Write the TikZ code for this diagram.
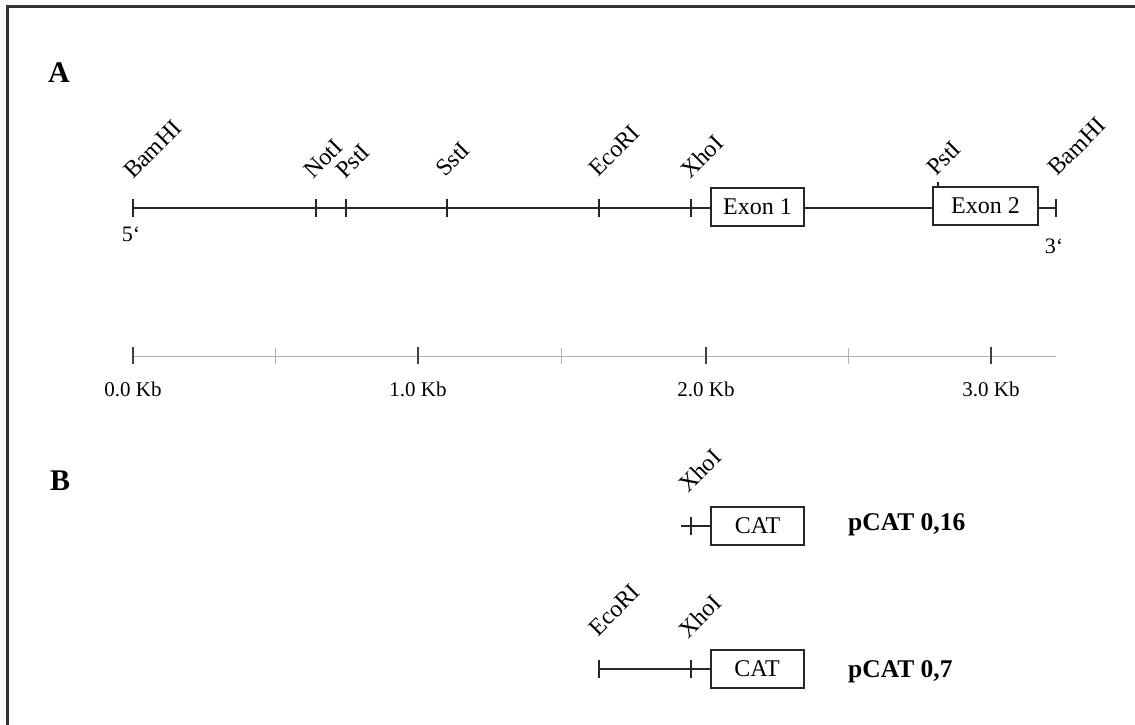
\documentclass[tikz,border=0pt]{standalone}
\usepackage{fontspec}
\setmainfont{Liberation Serif}
\begin{document}
\begin{tikzpicture}[x=1pt,y=-1pt,
  frame/.style={line width=3pt,draw=black!80},
  dna/.style={line width=2pt,draw=black!85},
  tick/.style={line width=2pt,draw=black!85},
  sitelabel/.style={rotate=45,anchor=base west,inner sep=0pt,font=\fontsize{24}{24}\selectfont},
  genebox/.style={draw=black!85,line width=2pt,minimum height=38pt,inner sep=0pt,font=\fontsize{24}{24}\selectfont},
  scaleline/.style={line width=1pt,draw=black!30},
  majortick/.style={line width=2pt,draw=black!75},
  minortick/.style={line width=1pt,draw=black!30},
  kb/.style={anchor=base,inner sep=0pt,font=\fontsize{21}{21}\selectfont},
  panel/.style={anchor=base west,inner sep=0pt,font=\fontsize{30}{30}\selectfont\bfseries},
  construct/.style={anchor=base west,inner sep=0pt,font=\fontsize{25.5}{25.5}\selectfont\bfseries},
  endlabel/.style={anchor=center,inner sep=0pt,font=\fontsize{22}{22}\selectfont}]
\useasboundingbox (0,0) rectangle (1135,725);
\fill[white] (0,0) rectangle (1135,725);
\draw[frame] (7,726) -- (7,7) -- (1136,7);

% panel labels
\node[panel] (pA) at (48,82) {A};
\node[panel] (pB) at (50,490) {B};

% ---------- Panel A map ----------
\coordinate (a0) at (133,208);
\coordinate (aNot) at (316,208);
\coordinate (aPst) at (346,208);
\coordinate (aSst) at (447,208);
\coordinate (aEco) at (599,208);
\coordinate (aXho) at (691,208);
\coordinate (aEnd) at (1056,208);
\node[genebox,minimum width=93pt] (ex1) at (757.5,207) {Exon 1};
\node[genebox,minimum width=105pt] (ex2) at (985.5,206) {Exon 2};
\coordinate (aPst2) at (938,187);

\draw[dna] (a0) -- (ex1.west |- a0);
\draw[dna] (ex1.east |- a0) -- (ex2.west |- a0);
\draw[dna] (ex2.east |- a0) -- (aEnd);
\foreach \c in {a0,aNot,aPst,aSst,aEco,aXho,aEnd}
  \draw[tick] ([shift={(0,-9)}]\c) -- ([shift={(0,9)}]\c);
\draw[tick] (aPst2) -- ([shift={(0,-5)}]aPst2);

\node[sitelabel] (lBam1) at ([shift={(0,-28)}]a0) {BamHI};
\node[sitelabel] (lNot) at ([shift={(-3,-28)}]aNot) {NotI};
\node[sitelabel] (lPst) at ([shift={(-1,-28)}]aPst) {PstI};
\node[sitelabel] (lSst) at ([shift={(-2,-30)}]aSst) {SstI};
\node[sitelabel] (lEco) at ([shift={(-1,-30)}]aEco) {EcoRI};
\node[sitelabel] (lXho) at ([shift={(-1,-28)}]aXho) {XhoI};
\node[sitelabel] (lPst2) at ([shift={(-2,-10)}]aPst2) {PstI};
\node[sitelabel] (lBam2) at ([shift={(1,-31)}]aEnd) {BamHI};

\node[endlabel] (five) at (131,234) {5`};
\node[endlabel] (three) at (1054,246) {3`};

% ---------- scale ----------
\coordinate (s0) at (133,356);
\coordinate (s05) at (275,356);
\coordinate (s1) at (418,356);
\coordinate (s15) at (561,356);
\coordinate (s2) at (706,356);
\coordinate (s25) at (848,356);
\coordinate (s3) at (991,356);
\coordinate (sEnd) at (1056,356);
\draw[scaleline] (s0) -- (sEnd);
\foreach \c in {s05,s15,s25}
  \draw[minortick] ([shift={(0,-8)}]\c) -- ([shift={(0,8)}]\c);
\foreach \c in {s0,s1,s2,s3}
  \draw[majortick] ([shift={(0,-9)}]\c) -- ([shift={(0,8)}]\c);
\node[kb] (k0) at ([shift={(0,40)}]s0) {0.0 Kb};
\node[kb] (k1) at ([shift={(0,40)}]s1) {1.0 Kb};
\node[kb] (k2) at ([shift={(0,40)}]s2) {2.0 Kb};
\node[kb] (k3) at ([shift={(0,40)}]s3) {3.0 Kb};

% ---------- Panel B ----------
\node[genebox,minimum width=93pt] (cat1) at (757.5,526) {CAT};
\coordinate (b1start) at (681,526);
\coordinate (b1Xho) at (691,526);
\draw[dna] (b1start) -- (cat1.west);
\draw[tick] ([shift={(0,-9)}]b1Xho) -- ([shift={(0,9)}]b1Xho);
\node[sitelabel] (lbXho1) at ([shift={(-3,-32)}]b1Xho) {XhoI};
\node[construct] (pc16) at (848,530) {pCAT 0,16};

\node[genebox,minimum width=93pt] (cat2) at (757,668.5) {CAT};
\coordinate (b2Eco) at (599,668.5);
\coordinate (b2Xho) at (691,668.5);
\draw[dna] (b2Eco) -- (cat2.west);
\foreach \c in {b2Eco,b2Xho}
  \draw[tick] ([shift={(0,-9)}]\c) -- ([shift={(0,9)}]\c);
\node[sitelabel] (lbEco) at ([shift={(-1,-31)}]b2Eco) {EcoRI};
\node[sitelabel] (lbXho2) at ([shift={(-3,-29)}]b2Xho) {XhoI};
\node[construct] (pc7) at (848,677) {pCAT 0,7};
\end{tikzpicture}
\end{document}
